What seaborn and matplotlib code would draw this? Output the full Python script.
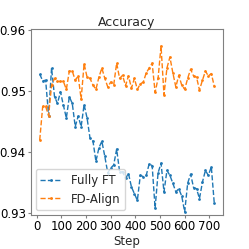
#!/usr/bin/env python3

import numpy as np
import pandas as pd
from matplotlib import pyplot as plt
import seaborn as sns

sns.set_style("ticks")

steps = np.arange(12, 721, 12)

fully_ft = [
    0.9528, 0.9517, 0.9518, 0.9460, 0.9538, 0.9491, 0.9480, 0.9499, 0.9477, 0.9456,
    0.9491, 0.9480, 0.9442, 0.9459, 0.9442, 0.9478, 0.9456, 0.9423, 0.9418, 0.9385,
    0.9407, 0.9418, 0.9393, 0.9366, 0.9374, 0.9379, 0.9405, 0.9368, 0.9368, 0.9357,
    0.9365, 0.9343, 0.9332, 0.9321, 0.9362, 0.9360, 0.9362, 0.9381, 0.9378, 0.9308,
    0.9366, 0.9382, 0.9335, 0.9370, 0.9362, 0.9349, 0.9335, 0.9340, 0.9328, 0.9302,
    0.9349, 0.9364, 0.9342, 0.9340, 0.9324, 0.9351, 0.9370, 0.9362, 0.9376, 0.9316,
]

fd_align = [
    0.9420, 0.9475, 0.9475, 0.9460, 0.9510, 0.9521, 0.9516, 0.9516, 0.9516, 0.9503,
    0.9533, 0.9533, 0.9518, 0.9525, 0.9487, 0.9545, 0.9523, 0.9521, 0.9510, 0.9503,
    0.9523, 0.9538, 0.9521, 0.9507, 0.9515, 0.9510, 0.9546, 0.9521, 0.9526, 0.9509,
    0.9525, 0.9505, 0.9521, 0.9503, 0.9512, 0.9515, 0.9530, 0.9538, 0.9546, 0.9498,
    0.9521, 0.9574, 0.9494, 0.9538, 0.9556, 0.9530, 0.9507, 0.9526, 0.9510, 0.9503,
    0.9521, 0.9536, 0.9525, 0.9523, 0.9502, 0.9518, 0.9533, 0.9525, 0.9529, 0.9508,
]

methods = ["Fully FT", "FD-Align"]

df = pd.DataFrame({
    "Step": np.concatenate([steps, steps]),
    "acc": fully_ft + fd_align,
    "method": [methods[0]] * len(steps) + [methods[1]] * len(steps),
})

fs = 8.5
plt.rcParams.update({
    "axes.edgecolor": "0.5",
    "xtick.color": "0.5",
    "ytick.color": "0.5",
    "xtick.labelcolor": "black",
    "ytick.labelcolor": "black",
    "font.size": fs,
})

fig, ax = plt.subplots(figsize=(2.49, 2.49), dpi=100)
fig.subplots_adjust(left=0.1245, right=0.8956, top=0.8835, bottom=0.1365)

sns.lineplot(data=df, x="Step", y="acc", hue="method", ax=ax,
             palette=["tab:blue", "tab:orange"], linestyle="--", linewidth=1,
             marker="o", markersize=2, markeredgewidth=0)

ax.set_ylim(0.9297, 0.9602)
ax.set_yticks([0.93, 0.94, 0.95, 0.96])
ax.set_xticks(range(0, 701, 100))
ax.tick_params(labelsize=fs, length=2.5, pad=1.2)
ax.set_ylabel(None)
ax.set_xlabel("Step", fontsize=fs, labelpad=1)
ax.set_title("Accuracy", fontsize=9, pad=1.5)
ax.legend(title=None, loc="lower left", fontsize=fs, frameon=True,
          handlelength=1.8, borderaxespad=0.4)

plt.savefig("out.png", dpi=100)
